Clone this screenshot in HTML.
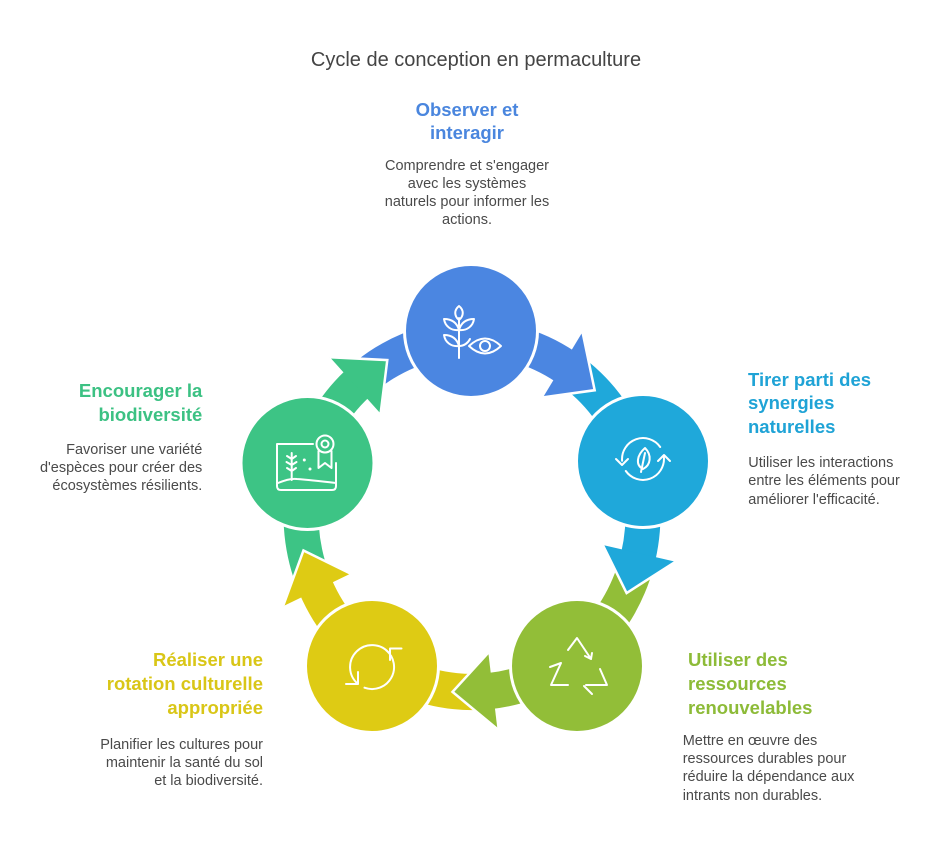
<!DOCTYPE html>
<html><head><meta charset="utf-8"><style>
html,body{margin:0;padding:0;background:#fff}
#c{position:relative;width:951px;height:854px;overflow:hidden;background:#fff;font-family:"Liberation Sans",Arial,sans-serif}
svg{position:absolute;left:0;top:0}
.t{position:absolute;white-space:nowrap}
.h{font-weight:bold;font-size:18.5px;line-height:23.7px}
.b{font-size:14.5px;line-height:18.2px;color:#4a4a4a}
</style></head><body><div id="c">
<svg width="951" height="854" viewBox="0 0 951 854">
<g transform="translate(472 515) scale(1 1.035)">
 <!-- bands -->
 <g transform="rotate(-88)"><path fill="#4B86E1" d="M140.08,-126.13 A188.5,188.5 0 0 1 161.58,97.08 L131.58,79.05 A153.5,153.5 0 0 0 114.07,-102.71 Z"/></g>
 <g transform="rotate(-17.5)"><path fill="#1FA8DA" d="M148.54,-116.06 A188.5,188.5 0 0 1 161.58,97.08 L131.58,79.05 A153.5,153.5 0 0 0 120.96,-94.51 Z"/></g>
 <g transform="rotate(53)"><path fill="#92BE38" d="M148.54,-116.06 A188.5,188.5 0 0 1 161.58,97.08 L131.58,79.05 A153.5,153.5 0 0 0 120.96,-94.51 Z"/></g>
 <g transform="rotate(125)"><path fill="#DECB14" d="M148.54,-116.06 A188.5,188.5 0 0 1 161.58,97.08 L131.58,79.05 A153.5,153.5 0 0 0 120.96,-94.51 Z"/></g>
 <g transform="rotate(197)"><path fill="#3DC485" d="M148.54,-116.06 A188.5,188.5 0 0 1 161.58,97.08 L131.58,79.05 A153.5,153.5 0 0 0 120.96,-94.51 Z"/></g>
 <!-- arrowheads -->
 <g transform="rotate(-88)"><path fill="#4B86E1" d="M180.56,104.25 L124.77,118.40 L116.04,67.00 Z"/><path fill="none" stroke="#fff" stroke-width="2.5" d="M180.56,104.25 L124.77,118.40 L116.04,67.00"/></g>
 <g transform="rotate(-17.5)"><path fill="#1FA8DA" d="M180.56,104.25 L124.77,118.40 L116.04,67.00 Z"/><path fill="none" stroke="#fff" stroke-width="2.5" d="M180.56,104.25 L124.77,118.40 L116.04,67.00"/></g>
 <g transform="rotate(53)"><path fill="#92BE38" d="M180.56,104.25 L124.77,118.40 L116.04,67.00 Z"/><path fill="none" stroke="#fff" stroke-width="2.5" d="M180.56,104.25 L124.77,118.40 L116.04,67.00"/></g>
 <g transform="rotate(125)"><path fill="#DECB14" d="M180.56,104.25 L124.77,118.40 L116.04,67.00 Z"/><path fill="none" stroke="#fff" stroke-width="2.5" d="M180.56,104.25 L124.77,118.40 L116.04,67.00"/></g>
 <g transform="rotate(197)"><path fill="#3DC485" d="M180.56,104.25 L124.77,118.40 L116.04,67.00 Z"/><path fill="none" stroke="#fff" stroke-width="2.5" d="M180.56,104.25 L124.77,118.40 L116.04,67.00"/></g>
</g>
<!-- circles -->
<circle cx="471" cy="331" r="66.5" fill="#4B86E1" stroke="#fff" stroke-width="3"/>
<circle cx="643" cy="461" r="66.5" fill="#1FA8DA" stroke="#fff" stroke-width="3"/>
<circle cx="577" cy="666" r="66.5" fill="#92BE38" stroke="#fff" stroke-width="3"/>
<circle cx="372" cy="666" r="66.5" fill="#DECB14" stroke="#fff" stroke-width="3"/>
<circle cx="307.5" cy="463" r="66.5" fill="#3DC485" stroke="#fff" stroke-width="3"/>
<!-- icons -->
<g fill="none" stroke="#fff" stroke-width="2" stroke-linecap="round" stroke-linejoin="round">
 <!-- blue: wheat + eye -->
 <path d="M459,318 V358"/>
 <path d="M459,306 C454,310 454,316 459,320 C464,316 464,310 459,306 Z"/>
 <path d="M459,330 C451,331 445,326 444,319 C452,319 457,323 459,330 Z"/>
 <path d="M459,330 C467,331 473,326 474,319 C466,319 461,323 459,330 Z"/>
 <path d="M459,346 C451,347 445,342 444,335 C452,335 457,339 459,346 Z"/>
 <path d="M459,346 C464,346 468,343 470,339"/>
 <path d="M469,346 Q485,331 501,346 Q485,361 469,346 Z"/>
 <circle cx="485" cy="346" r="5"/>
 <!-- cyan: cycle + leaf -->
 <path d="M660.2,447 A21,21 0 0 0 622.1,460.8"/>
 <path d="M616,459 L622,465 L628,459"/>
 <path d="M625.8,471 A21,21 0 0 0 663.9,457.2"/>
 <path d="M658,461 L664,455 L670,461"/>
 <path d="M645,448 C652,455 651,465 643,469 C635,465 637,455 645,448 Z"/>
 <path d="M645,453 L641,472"/>
 <!-- lime: recycle -->
 <path d="M568,650 L577,638 L591,659 M585,656 L591,659 L592,653"/>
 <path d="M550,667 L561,663 L551,685 L568,685"/>
 <path d="M600,669 L607,685 L586,685 M584,686 L592,694"/>
 <!-- yellow: refresh -->
 <path d="M388.9,652.9 A22,22 0 1 0 357.9,683.9"/>
 <path d="M346,684 H358 V672"/>
 <path d="M364.5,687.7 A22,22 0 0 0 386.1,650.1"/>
 <path d="M390,660 V648.5 H401.5"/>
 <!-- green: landscape + badge -->
 <path d="M313,444 H277 V486 Q277,490 281,490 H332 Q336,490 336,486 V463"/>
 <path d="M278,483 Q290,478 297,479 Q310,480 336,483"/>
 <path d="M291.7,453 V480 M291.7,459 L287,456 M291.7,459 L296,456 M291.7,465 L286.5,462 M291.7,465 L296.5,462 M291.7,471 L287,468 M291.7,471 L296,468"/>
 <circle cx="325" cy="444" r="8.5"/>
 <circle cx="325" cy="444" r="3.5"/>
 <path d="M318.5,451 V468 L325,463 L331.5,468 V451"/>
</g>
<circle cx="304.3" cy="460" r="1.5" fill="#fff"/>
<circle cx="310" cy="469" r="1.5" fill="#fff"/>
</svg>

<div class="t" style="left:276px;width:400px;top:48px;text-align:center;font-size:20px;line-height:24px;color:#444">Cycle de conception en permaculture</div>

<div class="t h" style="left:367px;width:200px;top:97.7px;text-align:center;color:#4A86DE">Observer et<br>interagir</div>
<div class="t b" style="left:367px;width:200px;top:156.6px;text-align:center">Comprendre et s'engager<br>avec les systèmes<br>naturels pour informer les<br>actions.</div>

<div class="t h" style="left:748px;top:367.7px;color:#1FA3D6">Tirer parti des<br>synergies<br>naturelles</div>
<div class="t b" style="left:748.3px;top:454.2px">Utiliser les interactions<br>entre les éléments pour<br>améliorer l'efficacité.</div>

<div class="t h" style="right:748.7px;top:379px;text-align:right;color:#3CC183">Encourager la<br>biodiversité</div>
<div class="t b" style="right:748.7px;top:440.9px;text-align:right">Favoriser une variété<br>d'espèces pour créer des<br>écosystèmes résilients.</div>

<div class="t h" style="right:688px;top:648.4px;text-align:right;color:#D9C617">Réaliser une<br>rotation culturelle<br>appropriée</div>
<div class="t b" style="right:688px;top:735.9px;text-align:right">Planifier les cultures pour<br>maintenir la santé du sol<br>et la biodiversité.</div>

<div class="t h" style="left:688px;top:648.4px;color:#8DBB38">Utiliser des<br>ressources<br>renouvelables</div>
<div class="t b" style="left:682.7px;top:731.9px">Mettre en œuvre des<br>ressources durables pour<br>réduire la dépendance aux<br>intrants non durables.</div>
</div></body></html>
